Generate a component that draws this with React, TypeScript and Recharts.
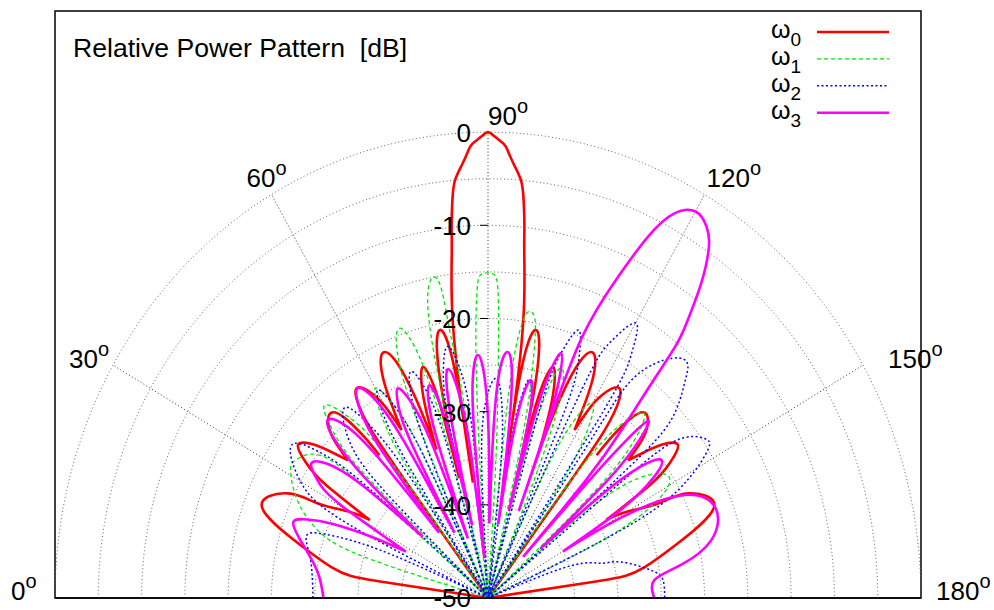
import React from 'react';
import { LineChart, Line, XAxis, YAxis, ReferenceLine, ReferenceArea, ReferenceDot } from 'recharts';

type P = [number, number];

// [angle in degrees, relative power in dB]; each inner array is one lobe (null to null)
const omega0Lobes: P[][] = [
  [[5, -50], [8.1, -38], [8.5, -34], [10.4, -31.6], [15, -27.3], [20.6, -22.1], [25.9, -24.3], [27.3, -27.9], [30, -31.5], [31.5, -34]],
  [[31.5, -34], [33, -27.5], [34.6, -24.5], [36.8, -22.6], [39.3, -24], [41.2, -26.5], [42.4, -28.1]],
  [[42.4, -28.1], [43.6, -25.5], [45.3, -23.8], [47.6, -23.1], [49.4, -24.5], [50.4, -27.5], [50.7, -30.2]],
  [[52.8, -50], [52.8, -35], [53.2, -27.5], [54.6, -23.8], [56.6, -22.9], [58.8, -24.5], [60.2, -26.8], [61, -29.4]],
  [[61, -29.4], [62.2, -25], [63.6, -22.2], [65.4, -21], [67.3, -22.5], [68.7, -27], [69.5, -33]],
  [[69.5, -33], [70.5, -28.5], [71.7, -25.5], [73.2, -24.1], [74.5, -26], [75.2, -30], [75.5, -36.7]],
  [[75.5, -36.7], [76.4, -28], [77.6, -22.5], [79.1, -20.7], [80.5, -22.5], [81.4, -28], [82, -37.5]],
  [[82, -37.5], [81.6, -30], [82.2, -20], [83.5, -13], [84, -9.8], [84.5, -7.1], [85.15, -5], [86.4, -3.27], [87.3, -1.9], [87.9, -1.2], [89.06, -0.5], [90, 0], [90.94, -0.5], [92.1, -1.2], [92.7, -1.9], [93.6, -3.27], [94.85, -5], [95.5, -7.1], [96, -9.8], [96.5, -13], [97.8, -20], [98.4, -30], [98, -37.5]],
  [[98, -37.5], [98.6, -28], [99.5, -22.5], [100.9, -20.7], [102.4, -22.5], [103.6, -28], [104.5, -36.7]],
  [[104.5, -36.7], [104.8, -30], [105.5, -26], [106.8, -24.1], [108.3, -25.5], [109.5, -28.5], [110.5, -33]],
  [[110.5, -33], [111.3, -27], [112.7, -22.5], [114.6, -21], [116.4, -22.2], [117.8, -25], [119, -29.4]],
  [[119, -29.4], [119.8, -26.8], [121.2, -24.5], [123.4, -22.9], [125.4, -23.8], [126.8, -27.5], [127.2, -35], [127.2, -50]],
  [[129.3, -30.2], [129.6, -27.5], [130.6, -24.5], [132.4, -23.1], [134.7, -23.8], [136.4, -25.5], [137.6, -28.1]],
  [[137.6, -28.1], [138.8, -26.5], [140.7, -24], [143.2, -22.6], [145.4, -24.5], [147, -27.5], [148.5, -34]],
  [[148.5, -34], [150, -31.5], [152.7, -27.9], [154.1, -24.3], [159.4, -22.1], [165, -27.3], [169.6, -31.6], [171.5, -34], [171.9, -38], [175, -50]],
];

const omega1Lobes: P[][] = [
  [[15, -50], [17, -36], [19.8, -29.5], [25.5, -25.6], [31, -23.4], [33.7, -23.3], [38, -25], [40, -32], [41.2, -50]],
  [[41.6, -50], [42.8, -32], [44.8, -25], [47.6, -22], [50.5, -25], [52.6, -32], [54, -50]],
  [[55, -50], [56.2, -34], [57.8, -27], [60, -24], [62.5, -27], [64.2, -34], [65.2, -50]],
  [[65.6, -50], [66.5, -33], [67.8, -23], [70.5, -19.3], [73, -23], [74.4, -33], [75.3, -50]],
  [[75.8, -50], [76.3, -30], [76.8, -21.5], [77.8, -17], [79.5, -15], [80.8, -16.5], [81.3, -21.5], [82.5, -30], [84.8, -50]],
  [[85.5, -50], [86.3, -35], [87, -23.4], [87.8, -17], [88.6, -15.3], [90, -15.1], [91.2, -15.3], [92, -17], [92.6, -23.4], [93.5, -35], [94.5, -50]],
  [[95.2, -50], [96, -32], [96.8, -23], [98, -19.5], [99, -18.9], [100.5, -20], [101.8, -25], [103, -33], [104.3, -50]],
  [[104.7, -50], [105.6, -36], [107, -27], [109, -23.9], [111.2, -27], [112.8, -36], [114.4, -50]],
  [[114.8, -50], [115.8, -36], [117.4, -28.8], [120, -25.8], [122.6, -28.8], [124.5, -36], [125.6, -50]],
  [[126, -50], [127.2, -34], [129.3, -26.2], [132.2, -23.2], [135, -26.2], [137.2, -34], [138.4, -50]],
  [[139, -50], [140.5, -36], [143.5, -28.4], [148, -25.4], [152, -28], [155, -36], [156.6, -50]],
];

const omega2Lobes: P[][] = [
  [[0, -29.8], [6, -29.6], [12, -29], [16.5, -28.1], [19, -28.5], [20.5, -31], [21.8, -34.2], [23, -40], [23.5, -50]],
  [[24, -50], [26.2, -32], [30, -25], [35.8, -22], [38.8, -25], [40.6, -32], [41.6, -50]],
  [[42, -50], [43.8, -33.7], [46.5, -26.7], [50.9, -23.7], [53.5, -26.7], [55.2, -33.7], [56, -50]],
  [[56.3, -50], [57.1, -34.3], [58.3, -27.3], [60.3, -24.3], [62.6, -27.3], [64.1, -34.3], [65, -50]],
  [[65.3, -50], [66.2, -34], [67.6, -27], [69.9, -24.1], [72.4, -27], [74, -34], [75, -50]],
  [[75.3, -50], [76.3, -32.6], [77.8, -25.6], [80.2, -22.6], [82.7, -25.6], [84.3, -32.6], [85.3, -50]],
  [[85.6, -50], [87, -36.4], [89, -29.4], [92.2, -26.4], [94.5, -29.4], [96, -36.4], [97, -50]],
  [[97.3, -50], [98.5, -36], [99.8, -29], [101.5, -26.1], [103.5, -29], [104.5, -36], [105.2, -50]],
  [[105.5, -50], [106.4, -29.4], [107.8, -22.4], [110, -19.4], [112.3, -22.4], [113.9, -29.4], [114.8, -50]],
  [[115, -50], [115.8, -26], [117.3, -19], [120.1, -15.9], [122.3, -19], [123.6, -26], [124.3, -50]],
  [[124.6, -50], [125, -30], [125.5, -20.9], [129.6, -16.6], [132.5, -15.9], [134.5, -17.6], [137.9, -21.5], [139.3, -30], [139.8, -50]],
  [[140.3, -50], [141, -32], [142, -22.7], [145.6, -19.7], [147.9, -20], [151.2, -23.7], [154.5, -32], [156, -50]],
  [[158, -50], [160, -40], [164.1, -36.4], [165.8, -34.2], [170.9, -31], [174.5, -29.7], [180, -29.6]],
];

const omega3Lobes: P[][] = [
  [[0, -31], [7.7, -30.2], [14.5, -28.1], [19.7, -26.1], [22, -27.5], [23.8, -30.2], [26, -35], [27.7, -39.3]],
  [[27.7, -39.3], [30.5, -30], [32.8, -26.5], [35.3, -25], [37.8, -26.5], [39.8, -31], [41.1, -40]],
  [[41.1, -40], [42.2, -31], [43.8, -25.5], [45.9, -23.4], [48.2, -25], [49.9, -30], [51.1, -41]],
  [[51.1, -41], [52.2, -30], [53.8, -25], [56.2, -22.9], [58.5, -25], [60, -30.5], [61.1, -42]],
  [[61.1, -42], [62, -31], [63.3, -27], [65.1, -25.2], [67, -27], [68.6, -32], [70, -43.2]],
  [[70, -43.2], [70.8, -33], [71.8, -28.2], [73.4, -26.2], [74.9, -28], [76, -33], [76.8, -42]],
  [[76.8, -42], [77.3, -33], [78.1, -27], [79.4, -25], [81, -27], [82.6, -33], [84.3, -45.6]],
  [[84.3, -45.6], [84.8, -33], [85.7, -26.5], [87.4, -23.9], [89.1, -26.5], [90.3, -33], [91.1, -42]],
  [[91.1, -42], [91.9, -33], [93, -26], [94.9, -23.5], [96.6, -26], [97.7, -33], [98.5, -42]],
  [[98.5, -42], [99.2, -34], [100.3, -28.5], [102, -26.1], [103.4, -28.5], [104.1, -33], [104.4, -40.3]],
  [[104.4, -40.3], [105.4, -30], [106.4, -24.8], [107.8, -22.4], [109.2, -24.8], [110.2, -30], [110.8, -40]],
  [[110.8, -40], [110.6, -30], [111.2, -20], [113.4, -12.8], [115.5, -7], [117.5, -3.5], [120, -2.1], [122.3, -2.8], [124.1, -4.5], [126, -8], [127.4, -11.5], [128.6, -14.9], [129.3, -20], [130.5, -26], [131.8, -33], [132.5, -44]],
  [[132.5, -44], [132.8, -33], [133.3, -27], [134.2, -23.5], [135.8, -25.5], [137.5, -31], [138.8, -42]],
  [[138.8, -42], [139.8, -33], [141.3, -27.5], [143.5, -25.1], [146, -27], [148.3, -32], [150, -40]],
  [[150, -40], [150.8, -32], [154, -24.8], [159.9, -22], [166.5, -23.5], [171, -27.5], [174.3, -30.7], [180, -30.8]],
];

const seriesLabels = ['0', '1', '2', '3'];
const angleTicks = [0, 30, 60, 90, 120, 150, 180];
const radialTicks = [0, -10, -20, -30, -40, -50];
const ringLevels = [-45, -40, -35, -30, -25, -20, -15, -10, -5, 0];
const bottomTicks = [0, 5, 10, 15, 20, 25, 30, 35, 40, 45, 50];
const titleText = 'Relative Power Pattern  [dB]';

const FLOOR = -50;
const FONT = '"Liberation Sans", Arial, Helvetica, sans-serif';

const toXY = (deg: number, db: number) => {
  const r = Math.max(db - FLOOR, 0);
  const a = (deg * Math.PI) / 180;
  return { x: -r * Math.cos(a), y: r * Math.sin(a) };
};

const toSeries = (lobes: P[][]) => {
  const out: { x: number; y: number | null }[] = [];
  lobes.forEach((lobe, i) => {
    if (i > 0) out.push({ x: 0, y: null });
    lobe.forEach(([d, v]) => out.push(toXY(d, v)));
  });
  return out;
};

const ringData = (level: number) => {
  const pts: { x: number; y: number }[] = [];
  for (let d = 0; d <= 180; d += 1) pts.push(toXY(d, level));
  return pts;
};

const seriesStyles = [
  { stroke: '#ff0000', width: 2.6, dash: undefined as string | undefined },
  { stroke: '#00e800', width: 1.3, dash: '4 3' },
  { stroke: '#0000ff', width: 1.5, dash: '2 2.5' },
  { stroke: '#ff00ff', width: 2.6, dash: undefined as string | undefined },
];

const allLobes = [omega0Lobes, omega1Lobes, omega2Lobes, omega3Lobes];

// pixel offsets of each angle label from the outer ring point
const angleLabelOffsets: Record<number, [number, number]> = {
  0: [-44, 2],
  30: [-44, 3],
  60: [-25, -8],
  90: [0, -7],
  120: [2, -8],
  150: [25, 3],
  180: [15, 2],
};

export default function App() {
  return (
    <div style={{ position: 'absolute', left: 0, top: 0, width: 994, height: 610, background: '#fff' }}>
      <LineChart
        width={994}
        height={610}
        margin={{ top: 11, right: 73, bottom: 11, left: 55 }}
        style={{ fontFamily: FONT }}
      >
        <XAxis
          type="number"
          dataKey="x"
          domain={[-50, 50]}
          allowDataOverflow
          ticks={bottomTicks}
          tick={false}
          tickSize={7}
          height={1}
          axisLine={{ stroke: '#000', strokeWidth: 1.5 }}
          tickLine={{ stroke: '#000', strokeWidth: 1 }}
        />
        <YAxis type="number" dataKey="y" domain={[0, 63]} allowDataOverflow hide />

        {ringLevels.map((lv) => (
          <Line
            key={'ring' + lv}
            data={ringData(lv)}
            dataKey="y"
            type="linear"
            stroke="#666"
            strokeWidth={1}
            strokeDasharray="1 2.6"
            dot={false}
            activeDot={false}
            isAnimationActive={false}
            legendType="none"
          />
        ))}
        {angleTicks
          .filter((a) => a > 0 && a < 180)
          .map((a) => (
            <ReferenceLine
              key={'rad' + a}
              segment={[toXY(a, FLOOR), toXY(a, 0)]}
              stroke="#333"
              strokeWidth={1}
              strokeDasharray="1 2.4"
              ifOverflow="visible"
            />
          ))}

        {allLobes.map((lobes, i) => (
          <Line
            key={'s' + i}
            name={'ω' + seriesLabels[i]}
            data={toSeries(lobes)}
            dataKey="y"
            type="natural"
            stroke={seriesStyles[i].stroke}
            strokeWidth={seriesStyles[i].width}
            strokeDasharray={seriesStyles[i].dash}
            strokeLinejoin="round"
            dot={false}
            activeDot={false}
            connectNulls={false}
            isAnimationActive={false}
          />
        ))}

        <ReferenceArea
          x1={-50}
          x2={50}
          y1={0}
          y2={63}
          fill="none"
          fillOpacity={0}
          stroke="#000"
          strokeWidth={1.5}
          ifOverflow="visible"
        />

        {radialTicks.map((t) => (
          <ReferenceDot
            key={'rt' + t}
            x={0}
            y={t - FLOOR}
            r={0}
            ifOverflow="visible"
            shape={(p: any) => (
              <g>
                {t !== 0 && t !== -50 && (
                  <line x1={p.cx - 8} x2={p.cx} y1={p.cy} y2={p.cy} stroke="#000" strokeWidth={1} />
                )}
                <text x={p.cx - 17} y={p.cy + (t === -50 ? 9 : 10)} textAnchor="end" fontSize={26} fontFamily={FONT} fill="#000">
                  {String(t)}
                </text>
              </g>
            )}
          />
        ))}

        {angleTicks.map((a) => {
          const pt = toXY(a, 0);
          const [dx, dy] = angleLabelOffsets[a];
          return (
            <ReferenceDot
              key={'al' + a}
              x={pt.x}
              y={pt.y}
              r={0}
              ifOverflow="visible"
              shape={(p: any) => (
                <text x={p.cx + dx} y={p.cy + dy} fontSize={26} fontFamily={FONT} fill="#000">
                  {String(a)}
                  <tspan dy={-12} fontSize={20}>o</tspan>
                </text>
              )}
            />
          );
        })}

        <ReferenceDot
          x={-50}
          y={63}
          r={0}
          ifOverflow="visible"
          shape={(p: any) => (
            <text x={p.cx + 18} y={p.cy + 46} fontSize={26.6} fontFamily={FONT} fill="#000" xmlSpace="preserve" style={{ whiteSpace: 'pre' }}>
              {titleText}
            </text>
          )}
        />

        <ReferenceDot
          x={50}
          y={63}
          r={0}
          ifOverflow="visible"
          shape={(p: any) => (
            <g>
              {seriesLabels.map((s, i) => {
                const ly = p.cy + 21 + i * 26.9;
                return (
                  <g key={'lg' + i}>
                    <text x={p.cx - 150} y={ly + 6} fontSize={25} fontFamily={FONT} fill="#000">
                      ω
                      <tspan dy={8} fontSize={19}>{s}</tspan>
                    </text>
                    <line
                      x1={p.cx - 104}
                      x2={p.cx - 32}
                      y1={ly}
                      y2={ly}
                      stroke={seriesStyles[i].stroke}
                      strokeWidth={seriesStyles[i].width}
                      strokeDasharray={seriesStyles[i].dash}
                    />
                  </g>
                );
              })}
            </g>
          )}
        />
      </LineChart>
    </div>
  );
}
